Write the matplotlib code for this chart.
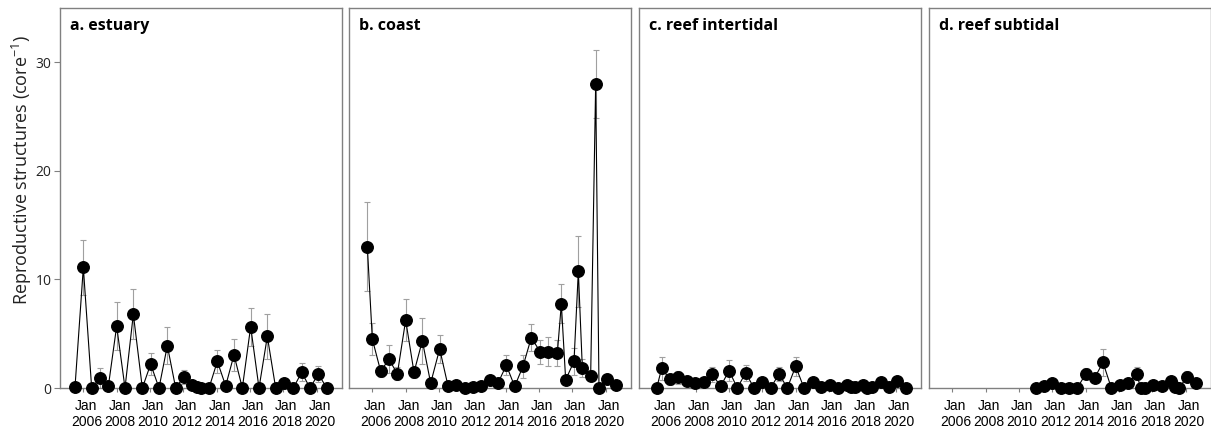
import matplotlib
matplotlib.use("Agg")
import matplotlib.pyplot as plt
from matplotlib.transforms import ScaledTranslation

# ---------------- data ----------------
panel_titles = ["a. estuary", "b. coast", "c. reef intertidal", "d. reef subtidal"]

dates_a = [2005.5, 2006.0, 2006.5, 2007.0, 2007.5, 2008.0, 2008.5, 2009.0, 2009.54, 2010.04,
           2010.54, 2011.04, 2011.54, 2012.04, 2012.54, 2012.8, 2013.04, 2013.54, 2014.04, 2014.54,
           2015.04, 2015.54, 2016.04, 2016.54, 2017.04, 2017.54, 2018.06, 2018.6, 2019.1, 2019.6,
           2020.1, 2020.6]
values_a = [0.1, 11.1, 0, 0.9, 0.15, 5.7, 0, 6.8, 0, 2.2, 0, 3.9, 0, 1.05, 0.3, 0.05, 0, 0,
            2.45, 0.2, 3.05, 0, 5.65, 0, 4.75, 0, 0.5, 0, 1.45, 0, 1.3, 0]
errors_a = [0.05, 2.5, 0, 0.9, 0.1, 2.2, 0, 2.3, 0, 1.0, 0, 1.7, 0, 0.65, 0.2, 0.05, 0, 0,
            1.05, 0.15, 1.45, 0, 1.75, 0, 2.05, 0, 0.3, 0, 0.85, 0, 0.75, 0]

dates_b = [2005.7, 2006.0, 2006.5, 2007.0, 2007.5, 2008.0, 2008.5, 2009.0, 2009.5, 2010.04,
           2010.54, 2011.04, 2011.54, 2012.04, 2012.54, 2013.04, 2013.54, 2014.04, 2014.54, 2015.04,
           2015.54, 2016.06, 2016.56, 2017.1, 2017.34, 2017.6, 2018.1, 2018.36, 2018.6, 2019.1,
           2019.4, 2019.6, 2020.1, 2020.64]
values_b = [13.0, 4.5, 1.55, 2.65, 1.3, 6.25, 1.45, 4.35, 0.45, 3.6, 0.2, 0.3, 0, 0.05, 0.2,
            0.75, 0.45, 2.1, 0.15, 2.0, 4.65, 3.35, 3.35, 3.2, 7.75, 0.75, 2.45, 10.75, 1.85,
            1.15, 28.0, 0, 0.85, 0.25]
errors_b = [4.1, 1.5, 0.5, 1.3, 0.6, 1.95, 0.5, 2.1, 0.2, 1.3, 0.1, 0.15, 0, 0.05, 0.1, 0.3,
            0.2, 0.9, 0.1, 1.05, 1.25, 1.1, 1.35, 1.2, 1.8, 0.3, 1.25, 3.25, 0.8, 0.5, 3.1, 0,
            0.4, 0.1]

dates_c = [2005.66, 2005.96, 2006.46, 2006.96, 2007.46, 2007.96, 2008.5, 2009.0, 2009.5, 2010.0,
           2010.5, 2011.0, 2011.5, 2012.0, 2012.5, 2013.0, 2013.5, 2014.0, 2014.5, 2015.04,
           2015.54, 2016.06, 2016.56, 2017.06, 2017.3, 2017.56, 2018.06, 2018.3, 2018.6, 2019.1,
           2019.6, 2020.1, 2020.6]
values_c = [0, 1.8, 0.8, 1.0, 0.65, 0.5, 0.55, 1.25, 0.15, 1.6, 0, 1.4, 0, 0.55, 0, 1.3, 0,
            2.0, 0, 0.55, 0.05, 0.25, 0, 0.25, 0.05, 0.1, 0.3, 0, 0.1, 0.55, 0.05, 0.65, 0]
errors_c = [0, 1.1, 0.5, 0.6, 0.4, 0.3, 0.5, 0.7, 0.1, 1.0, 0, 0.75, 0, 0.3, 0, 0.65, 0, 0.9,
            0, 0.3, 0.05, 0.15, 0, 0.15, 0.05, 0.1, 0.2, 0, 0.1, 0.3, 0.05, 0.35, 0]

dates_d = [2011.0, 2011.5, 2012.0, 2012.5, 2013.0, 2013.5, 2014.0, 2014.54, 2015.04, 2015.54,
           2016.06, 2016.56, 2017.06, 2017.3, 2017.56, 2018.06, 2018.56, 2019.1, 2019.34, 2019.6,
           2020.1, 2020.6]
values_d = [0, 0.2, 0.45, 0, 0, 0, 1.3, 0.95, 2.35, 0, 0.3, 0.45, 1.3, 0, 0, 0.3, 0.15, 0.6,
            0.1, 0, 1.05, 0.45]
errors_d = [0, 0.1, 0.25, 0, 0, 0, 0.5, 0.4, 1.2, 0, 0.15, 0.25, 0.6, 0, 0, 0.15, 0.1, 0.3,
            0.05, 0, 0.5, 0.25]

tick_years = [2006, 2008, 2010, 2012, 2014, 2016, 2018, 2020]
tick_labels = ["Jan\n%d" % y for y in tick_years]
y_ticks = [0, 10, 20, 30]
y_label = "Reproductive structures (core$^{\\mathregular{-1}}$)"

series = [(dates_a, values_a, errors_a), (dates_b, values_b, errors_b),
          (dates_c, values_c, errors_c), (dates_d, values_d, errors_d)]

# ---------------- figure ----------------
W, H = 1211, 430
fig = plt.figure(figsize=(W / 100, H / 100), dpi=100)

lefts_px = [60, 349, 639, 929]
ax_w_px = 282
top_px, bottom_px = 8, 388

spine_col = "#808080"
tick_font = ["Liberation Sans Narrow", "Liberation Sans", "DejaVu Sans"]

for i, (dates, vals, errs) in enumerate(series):
    ax = fig.add_axes([lefts_px[i] / W, 1 - bottom_px / H, ax_w_px / W, (bottom_px - top_px) / H])
    ax.errorbar(dates, vals, yerr=errs, fmt="none", ecolor="#a0a0a0", elinewidth=0.8,
                capsize=2, capthick=0.8, zorder=2)
    ax.plot(dates, vals, color="black", lw=0.8, zorder=3, clip_on=False)
    ax.plot(dates, vals, "o", color="black", ms=8.3, zorder=4, clip_on=False)
    ax.set_xlim(2004.6, 2021.52)
    ax.set_ylim(0, 35)
    for s in ax.spines.values():
        s.set_color(spine_col)
        s.set_linewidth(1.0)
    ax.set_xticks(tick_years)
    ax.set_xticklabels(tick_labels, fontsize=10, family=tick_font, linespacing=1.15)
    ax.tick_params(axis="x", length=3, width=0.8, color=spine_col, pad=5)
    for lab in ax.get_xticklabels():
        lab.set_transform(lab.get_transform() + ScaledTranslation(3 / 100, 0, fig.dpi_scale_trans))
    if i == 0:
        ax.set_yticks(y_ticks)
        ax.set_yticklabels([str(v) for v in y_ticks], fontsize=10, family="Open Sans", color="#222222")
        ax.tick_params(axis="y", length=4, width=0.8, color=spine_col, pad=2)
    else:
        ax.set_yticks([])
    ax.text(10 / ax_w_px, 1 - 18 / (bottom_px - top_px), panel_titles[i], transform=ax.transAxes,
            fontsize=11.5, fontweight="bold", family="Open Sans", color="black",
            ha="left", va="center")

fig.text(22 / W, 1 - 170 / H, y_label, rotation=90, ha="center", va="center",
         fontsize=13, family="Open Sans", color="#222222")

fig.savefig("out.png", dpi=100)
